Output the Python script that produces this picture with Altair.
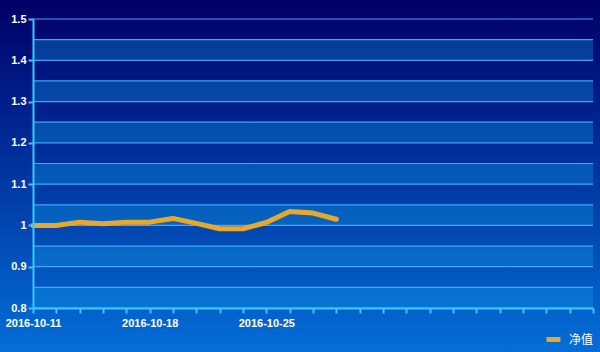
import altair as alt
import pandas as pd

dates = ["2016-10-11", "2016-10-12", "2016-10-13", "2016-10-14", "2016-10-17",
         "2016-10-18", "2016-10-19", "2016-10-20", "2016-10-21", "2016-10-24",
         "2016-10-25", "2016-10-26", "2016-10-27", "2016-10-28", "2016-10-31",
         "2016-11-01", "2016-11-02", "2016-11-03", "2016-11-04", "2016-11-07",
         "2016-11-08", "2016-11-09", "2016-11-10", "2016-11-11", "2016-11-14"]
shown_labels = ["2016-10-11", "2016-10-18", "2016-10-25"]
nav = [1.000, 1.000, 1.008, 1.004, 1.008, 1.008, 1.017, 1.005, 0.992, 0.992,
       1.007, 1.034, 1.030, 1.015]
series_name = "净值"
y_ticks = [0.8, 0.9, 1.0, 1.1, 1.2, 1.3, 1.4, 1.5]
grid_values = [0.8, 0.85, 0.9, 0.95, 1.0, 1.05, 1.1, 1.15, 1.2, 1.25, 1.3,
               1.35, 1.4, 1.45, 1.5]
band_low = [0.8, 0.9, 1.0, 1.1, 1.2, 1.3, 1.4]
band_high = [0.85, 0.95, 1.05, 1.15, 1.25, 1.35, 1.45]

W, H = 560, 289
PAD = {"left": 33, "top": 19, "right": 7, "bottom": 44}

line_df = pd.DataFrame({"date": dates[:len(nav)], "nav": nav,
                        "series": [series_name] * len(nav)})
band_df = pd.DataFrame({"lo": band_low, "hi": band_high})
grid_df = pd.DataFrame({"g": grid_values})

yscale = alt.Scale(domain=[0.8, 1.5], nice=False, zero=False)
axis_color = "#38c8ff"
font = "Liberation Sans"

yaxis = alt.Axis(title=None, values=y_ticks, format="~g",
                 domainColor=axis_color, domainWidth=2,
                 tickColor=axis_color, tickWidth=2, tickSize=5,
                 labelColor="white", labelFont=font, labelFontSize=11,
                 labelFontWeight="bold", labelPadding=2, grid=False,
                 zindex=1)

bg = alt.Chart(alt.Data(values=[{}])).mark_rect(
    fill=alt.Gradient(
        gradient="linear",
        stops=[alt.GradientStop(color="#000066", offset=0),
               alt.GradientStop(color="#001a86", offset=0.25),
               alt.GradientStop(color="#046ed8", offset=1)],
        x1=0, x2=0, y1=0, y2=1),
).encode(
    x=alt.value(-PAD["left"]), x2=alt.value(W + PAD["right"]),
    y=alt.value(-PAD["top"]), y2=alt.value(H + PAD["bottom"]),
)

bands = alt.Chart(band_df).mark_rect(color="#10a0e0", opacity=0.33).encode(
    x=alt.value(0), x2=alt.value(W),
    y=alt.Y("lo:Q", scale=yscale, axis=yaxis), y2="hi:Q",
)

grid = alt.Chart(grid_df).mark_rule(color="#4aa8ff", strokeWidth=1.2, opacity=0.95).encode(
    x=alt.value(0), x2=alt.value(W),
    y=alt.Y("g:Q", scale=yscale, axis=yaxis),
)

label_expr = ("indexof(" + str(shown_labels) + ", datum.value) >= 0 ? datum.value : ''")

line = alt.Chart(line_df).mark_line(
    strokeWidth=5, strokeCap="round", strokeJoin="round"
).encode(
    x=alt.X("date:O", scale=alt.Scale(type="point", domain=dates, padding=0),
            axis=alt.Axis(title=None, labelExpr=label_expr, labelAngle=0,
                          labelOverlap=False, labelFlush=False,
                          domainColor=axis_color, domainWidth=2,
                          tickColor=axis_color, tickWidth=2, tickSize=5,
                          labelColor="white", labelFont=font, labelFontSize=11,
                          labelFontWeight="bold", labelPadding=4, grid=False,
                          zindex=1)),
    y=alt.Y("nav:Q", scale=yscale, axis=yaxis),
    color=alt.Color("series:N", scale=alt.Scale(range=["#e8a82a"]),
                    legend=alt.Legend(orient="none", legendX=511, legendY=311,
                                      title=None, symbolType="stroke",
                                      symbolStrokeWidth=5, symbolSize=196,
                                      labelColor="white",
                                      labelFont="Noto Sans CJK SC",
                                      labelFontSize=12, labelOffset=6,
                                      padding=0)),
)

chart = alt.layer(bg, bands, grid, line).properties(
    width=W, height=H, autosize="none", padding=PAD,
    background="#000066",
).configure_view(stroke=None)

chart.save("out.html", embed_options={"renderer": "svg", "actions": False})
